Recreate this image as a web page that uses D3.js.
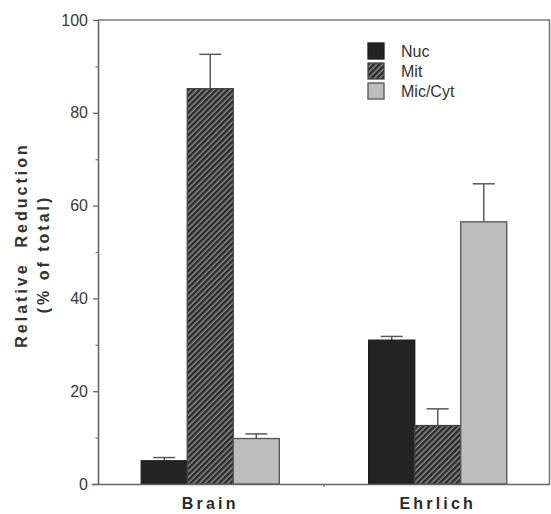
<!DOCTYPE html>
<html lang="en">
<head>
  <meta charset="UTF-8">
  <title>Relative Reduction</title>
  <script src="https://d3js.org/d3.v7.min.js"></script>
  <style>
    body {
      margin: 0;
      background: #fff;
      font-family: 'Liberation Sans', Arial, sans-serif;
    }
    svg { display: block; }
  </style>
</head>
<body>
  <div id="wrapper"></div>
  <script>
    // values
    const groups = ["Brain", "Ehrlich"]
    const series = ["Nuc", "Mit", "Mic/Cyt"]
    const brainValues = [5.0, 85.2, 9.8]
    const brainErrors = [0.7, 7.4, 1.0]
    const ehrlichValues = [31.0, 12.6, 56.5]
    const ehrlichErrors = [0.8, 3.6, 8.2]
    const yTicks = [0, 20, 40, 60, 80, 100]
    const yMinorTicks = [10, 30, 50, 70, 90]

    const values = { Brain: brainValues, Ehrlich: ehrlichValues }
    const errors = { Brain: brainErrors, Ehrlich: ehrlichErrors }
    const dataset = []
    groups.forEach(g => series.forEach((s, i) => {
      dataset.push({ group: g, series: s, value: values[g][i], err: errors[g][i] })
    }))

    const dimensions = {
      width: 551,
      height: 514,
      margin: { top: 20, right: 1, bottom: 30, left: 98 }
    }
    dimensions.boundedWidth = dimensions.width - dimensions.margin.left - dimensions.margin.right
    dimensions.boundedHeight = dimensions.height - dimensions.margin.top - dimensions.margin.bottom

    const wrapper = d3.select("#wrapper")
      .append("svg")
        .attr("width", dimensions.width)
        .attr("height", dimensions.height)

    const defs = wrapper.append("defs")
    const hatch = defs.append("pattern")
      .attr("id", "hatch")
      .attr("patternUnits", "userSpaceOnUse")
      .attr("width", 4)
      .attr("height", 4)
      .attr("patternTransform", "rotate(45)")
    hatch.append("rect").attr("width", 4).attr("height", 4).attr("fill", "#858585")
    hatch.append("rect").attr("width", 2.4).attr("height", 4).attr("fill", "#2a2a2a")

    const bounds = wrapper.append("g")
      .attr("transform", `translate(${dimensions.margin.left}, ${dimensions.margin.top})`)

    const yScale = d3.scaleLinear()
      .domain([0, 100])
      .range([dimensions.boundedHeight, 0])

    const x0 = d3.scaleBand()
      .domain(groups)
      .range([0, dimensions.boundedWidth])
      .paddingInner(0.393)
      .paddingOuter(0.19)

    const x1 = d3.scaleBand()
      .domain(series)
      .range([0, x0.bandwidth()])

    const fills = { "Nuc": "#232323", "Mit": "url(#hatch)", "Mic/Cyt": "#bdbdbd" }
    const strokes = { "Nuc": "#1c1c1c", "Mit": "#444", "Mic/Cyt": "#555" }

    // frame (top + right)
    bounds.append("path")
      .attr("d", `M0,0 H${dimensions.boundedWidth - 0.5} V${dimensions.boundedHeight}`)
      .attr("fill", "none")
      .attr("stroke", "#777")
      .attr("stroke-width", 1.6)

    // error bars
    const errG = bounds.append("g")
      .attr("stroke", "#5a5a5a")
      .attr("stroke-width", 1.5)
    dataset.forEach(d => {
      const cx = x0(d.group) + x1(d.series) + x1.bandwidth() / 2
      errG.append("line")
        .attr("x1", cx).attr("x2", cx)
        .attr("y1", yScale(d.value)).attr("y2", yScale(d.value + d.err))
      errG.append("line")
        .attr("x1", cx - 11).attr("x2", cx + 11)
        .attr("y1", yScale(d.value + d.err)).attr("y2", yScale(d.value + d.err))
    })

    // bars
    bounds.append("g")
      .selectAll("rect")
      .data(dataset)
      .join("rect")
        .attr("x", d => x0(d.group) + x1(d.series))
        .attr("y", d => yScale(d.value))
        .attr("width", x1.bandwidth())
        .attr("height", d => yScale(0) - yScale(d.value))
        .attr("fill", d => fills[d.series])
        .attr("stroke", d => strokes[d.series])
        .attr("stroke-width", 1.3)

    // y axis
    const yAxis = bounds.append("g")
      .call(d3.axisLeft(yScale).tickValues(yTicks).tickSize(5).tickPadding(5).tickSizeOuter(0))
    yAxis.select(".domain").attr("stroke", "#666").attr("stroke-width", 1.6)
    yAxis.selectAll(".tick line").attr("stroke", "#666").attr("stroke-width", 1.3)
    yAxis.selectAll(".tick text")
      .attr("fill", "#3a3a3a")
      .style("font-size", "16px")
      .style("font-family", "'Liberation Sans', Arial, sans-serif")

    bounds.append("g")
      .call(d3.axisLeft(yScale).tickValues(yMinorTicks).tickSize(2.5).tickFormat(""))
      .call(g => g.select(".domain").remove())
      .selectAll(".tick line").attr("stroke", "#777").attr("stroke-width", 1.2)

    // x axis
    const xAxis = bounds.append("g")
      .attr("transform", `translate(0, ${dimensions.boundedHeight})`)
      .call(d3.axisBottom(x0).tickSize(0).tickPadding(14).tickSizeOuter(0))
    xAxis.select(".domain").attr("stroke", "#666").attr("stroke-width", 1.6)
      .attr("d", `M-6,0.5H${dimensions.boundedWidth}`)
    xAxis.selectAll(".tick text")
      .attr("fill", "#2a2a2a")
      .style("font-size", "16px")
      .style("font-weight", "bold")
      .style("letter-spacing", "3.2px")
      .style("font-family", "'Liberation Sans', Arial, sans-serif")
    // small mark between the groups
    xAxis.append("line")
      .attr("x1", (x0("Brain") + x0("Ehrlich") + x0.bandwidth()) / 2)
      .attr("x2", (x0("Brain") + x0("Ehrlich") + x0.bandwidth()) / 2)
      .attr("y1", 0).attr("y2", 3)
      .attr("stroke", "#666").attr("stroke-width", 1.3)

    // y axis title
    const yTitle = wrapper.append("g")
      .attr("fill", "#333")
      .style("font-size", "16px")
      .style("font-weight", "bold")
      .style("letter-spacing", "3px")
      .attr("text-anchor", "middle")
    yTitle.append("text")
      .attr("transform", "translate(27, 245) rotate(-90)")
      .attr("xml:space", "preserve")
      .text("Relative  Reduction")
    yTitle.append("text")
      .attr("transform", "translate(49, 254) rotate(-90)")
      .text("(% of total)")

    // legend
    const legend = bounds.append("g")
      .attr("transform", "translate(270, 23)")
    series.forEach((s, i) => {
      const row = legend.append("g").attr("transform", `translate(0, ${i * 20})`)
      row.append("rect")
        .attr("width", 16).attr("height", 16)
        .attr("fill", fills[s])
        .attr("stroke", strokes[s])
        .attr("stroke-width", 1.3)
      row.append("text")
        .attr("x", 33)
        .attr("y", 14)
        .attr("fill", "#333")
        .style("font-size", "16px")
        .text(s)
    })
  </script>
</body>
</html>
